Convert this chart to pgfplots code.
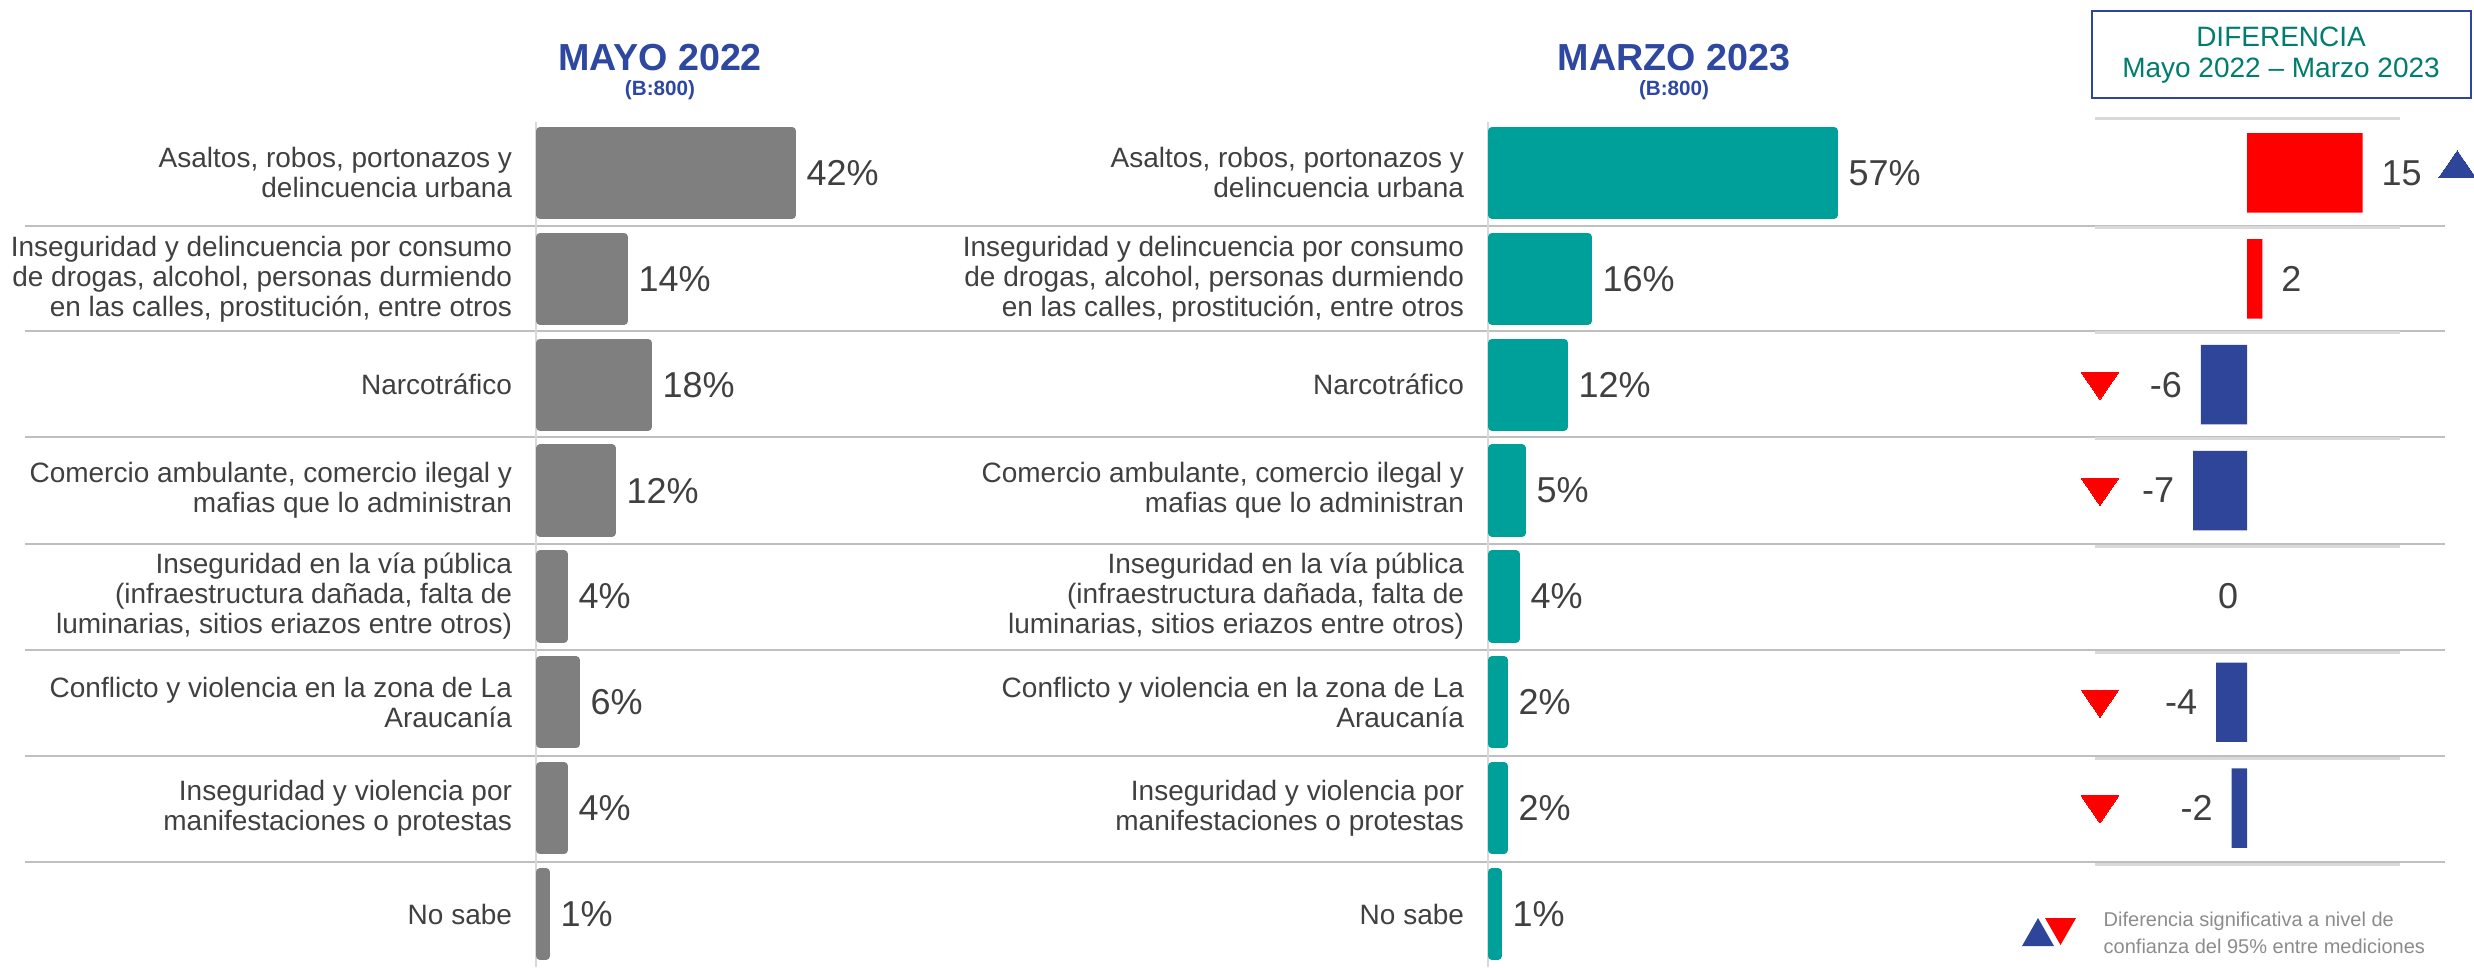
\documentclass[border=0pt]{standalone}
\usepackage{fontspec}
\setmainfont{Liberation Sans}
\usepackage{pgfplots}
\pgfplotsset{compat=1.18}
\definecolor{barGray}{RGB}{127,127,127}
\definecolor{barTeal}{RGB}{0,160,154}
\definecolor{diffRed}{RGB}{255,0,0}
\definecolor{diffBlue}{RGB}{47,69,153}
\definecolor{titleBlue}{RGB}{46,71,160}
\definecolor{boxText}{RGB}{0,125,110}
\definecolor{txt}{RGB}{64,64,64}
\definecolor{sepDark}{RGB}{191,191,191}
\definecolor{sepLight}{RGB}{217,217,217}
\definecolor{legTxt}{RGB}{140,140,140}

\pgfplotsset{
  panel/.style={
    scale only axis, width=108pt, height=254.1pt,
    xmin=0, xmax=60, ymin=0.5, ymax=8.5, y dir=reverse,
    axis line style={draw=none}, major tick length=0pt,
    xtick=\empty, ytick={1,...,8},
    yticklabels={{Asaltos, robos, portonazos y\\delincuencia urbana},
      {Inseguridad y delincuencia por consumo\\de drogas, alcohol, personas durmiendo\\en las calles, prostitución, entre otros},
      {Narcotráfico},
      {Comercio ambulante, comercio ilegal y\\mafias que lo administran},
      {Inseguridad en la vía pública\\(infraestructura dañada, falta de\\luminarias, sitios eriazos entre otros)},
      {Conflicto y violencia en la zona de La\\Araucanía},
      {Inseguridad y violencia por\\manifestaciones o protestas},
      {No sabe}},
    yticklabel style={align=right, font=\fontsize{8.4}{9}\selectfont, text=txt, inner sep=0pt, xshift=-8.2pt},
    bar width=0.795,
    clip=false,
    /pgf/number format/assume math mode=true,
  },
  pctbars/.style={
    xbar, bar shift=0pt, draw=#1, fill=#1, line width=2.4pt, line join=round,
    nodes near coords={\pgfmathprintnumber{\pgfplotspointmeta}\%},
    every node near coord/.append style={anchor=west, inner sep=0pt, xshift=3.2pt,
      font=\fontsize{10.8}{12}\selectfont, text=txt},
  },
}

\begin{document}
\begin{tikzpicture}[x=0.3pt,y=0.3pt]
\path[use as bounding box] (0,0) rectangle (2474,967);

% separators
\foreach \yy in {741,636,530,423,317,211,105} {
  \draw[sepDark, line width=0.6pt] (25,\yy) -- (2445,\yy);
}
\foreach \yy in {848,739,634,528,421,315,209,103} {
  \draw[sepLight, line width=0.9pt] (2095,\yy) -- (2400,\yy);
}
% vertical axis lines
\draw[sepLight, line width=0.6pt] (536,845) -- (536,0);
\draw[sepLight, line width=0.6pt] (1488,845) -- (1488,0);

% titles
\node[font=\fontsize{11.3}{13}\selectfont\bfseries, text=titleBlue] at (660,909) {MAYO 2022};
\node[font=\fontsize{6.2}{7}\selectfont\bfseries, text=titleBlue] at (660,877) {(B:800)};
\node[font=\fontsize{11.3}{13}\selectfont\bfseries, text=titleBlue] at (1674,909) {MARZO 2023};
\node[font=\fontsize{6.2}{7}\selectfont\bfseries, text=titleBlue] at (1674,877) {(B:800)};

% difference box
\draw[diffBlue, line width=0.6pt] (2092,956) rectangle (2471,869);
\node[font=\fontsize{8.4}{10}\selectfont, text=boxText] at (2281,930) {DIFERENCIA};
\node[font=\fontsize{8.4}{10}\selectfont, text=boxText] at (2281,896) {Mayo 2022 – Marzo 2023};

\coordinate (L) at (540,847);
\coordinate (R) at (1492,847);
\coordinate (D) at (2170,847);

\begin{axis}[panel, at={(L)}, anchor=north west]
\addplot[pctbars=barGray] coordinates {(42,1) (14,2) (18,3) (12,4) (4,5) (6,6) (4,7) (1,8)};
\end{axis}

\begin{axis}[panel, at={(R)}, anchor=north west]
\addplot[pctbars=barTeal] coordinates {(57,1) (16,2) (12,3) (5,4) (4,5) (2,6) (2,7) (1,8)};
\end{axis}

\begin{axis}[at={(D)}, anchor=north west, scale only axis, width=69.3pt, height=254.1pt,
  xmin=-10, xmax=20, ymin=0.5, ymax=8.5, y dir=reverse, hide axis, clip=false,
  bar width=0.75, /pgf/number format/assume math mode=true]
\addplot[xbar, bar shift=0pt, draw=none, fill=diffRed,
  nodes near coords, every node near coord/.append style={anchor=west, inner sep=0pt, xshift=5.5pt,
  font=\fontsize{10.8}{12}\selectfont, text=txt}] coordinates {(15,1) (2,2)};
\addplot[xbar, bar shift=0pt, draw=none, fill=diffBlue,
  nodes near coords, every node near coord/.append style={anchor=east, inner sep=0pt, xshift=-5.5pt,
  font=\fontsize{10.8}{12}\selectfont, text=txt}] coordinates {(-6,3) (-7,4) (-4,6) (-2,7)};
\addplot[only marks, mark=none, point meta=x,
  nodes near coords, every node near coord/.append style={anchor=east, inner sep=0pt, xshift=-2.5pt,
  font=\fontsize{10.8}{12}\selectfont, text=txt}] coordinates {(0,5)};
\addplot[diffRed, only marks, mark=triangle*, mark size=5.4pt,
  mark options={draw=diffRed, fill=diffRed, line width=0pt, rotate=180, xscale=1.19}]
  coordinates {(-19.1,2.97) (-19.1,3.97) (-19.1,5.97) (-19.1,6.97)};
\addplot[diffBlue, only marks, mark=triangle*, mark size=5.4pt,
  mark options={draw=diffBlue, fill=diffBlue, line width=0pt, xscale=1.19}]
  coordinates {(27.3,0.96)};
\end{axis}

% legend
\fill[diffBlue] (2022,21) -- (2054,21) -- (2038,49) -- cycle;
\fill[diffRed] (2045,49) -- (2076,49) -- (2060.5,22) -- cycle;
\node[anchor=west, align=left, inner sep=0pt, font=\fontsize{6}{8.1}\selectfont, text=legTxt] at (2103,34)
  {Diferencia significativa a nivel de\\confianza del 95\% entre mediciones};
\end{tikzpicture}
\end{document}
